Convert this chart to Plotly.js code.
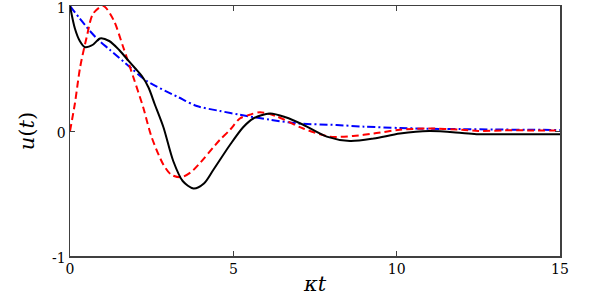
<!DOCTYPE html>
<html>
<head>
<meta charset="utf-8">
<script src="https://cdn.plot.ly/plotly-3.0.1.min.js"></script>
<style>html,body{margin:0;padding:0;background:#fff;}#chart{width:598px;height:304px;}</style>
</head>
<body>
<div id="chart"></div>
<script>
// Black solid curve
const blackX = [0, 0.15, 0.3, 0.46, 0.7, 0.92, 1.2, 1.5, 1.73, 2.0, 2.2, 2.4, 2.6, 2.86, 3.16, 3.45, 3.78, 4.1, 4.39, 4.9, 5.3, 5.61, 6.12, 6.6, 7.14, 7.86, 8.57, 9.3, 10.1, 11.0, 12.0, 12.5, 13.5, 15];
const blackY = [1.0, 0.82, 0.72, 0.67, 0.69, 0.74, 0.72, 0.65, 0.58, 0.50, 0.44, 0.35, 0.21, 0.03, -0.24, -0.40, -0.46, -0.42, -0.31, -0.11, 0.03, 0.10, 0.14, 0.11, 0.05, -0.045, -0.08, -0.06, -0.02, 0.0, -0.015, -0.025, -0.025, -0.025];
// Red dashed curve
const redX = [0, 0.15, 0.31, 0.51, 0.71, 1.02, 1.33, 1.63, 1.94, 2.24, 2.5, 2.86, 3.1, 3.4, 3.7, 4.0, 4.39, 4.59, 4.9, 5.2, 5.5, 5.82, 6.3, 7.14, 7.96, 8.67, 9.3, 10.1, 11.0, 12.0, 12.5, 13.3, 14, 15];
const redY = [0, 0.22, 0.51, 0.75, 0.94, 1.0, 0.89, 0.67, 0.43, 0.19, -0.05, -0.27, -0.35, -0.37, -0.33, -0.25, -0.13, -0.07, 0.01, 0.10, 0.13, 0.15, 0.12, 0.02, -0.045, -0.04, -0.02, 0.01, 0.02, 0.01, 0.0, 0.005, 0.005, 0.005];
// Blue dash-dot curve
const blueX = [0, 0.3, 0.61, 0.9, 1.22, 1.84, 2.35, 3.32, 3.88, 4.59, 5.2, 6.12, 7.0, 8.16, 9.0, 10.1, 11, 12, 13, 14, 15];
const blueY = [1.0, 0.9, 0.8, 0.72, 0.65, 0.51, 0.40, 0.27, 0.20, 0.16, 0.13, 0.09, 0.06, 0.048, 0.035, 0.024, 0.018, 0.015, 0.012, 0.01, 0.008];

const xTickVals = [0, 5, 10, 15];
const xTickText = ['0', '5', '10', '15'];
const yTickVals = [-1, 0, 1];
const yTickText = ['-1', '0', '1'];

const serif = 'DejaVu Serif';

const traces = [
  {x: blueX, y: blueY, mode: 'lines', line: {color: '#0000ff', width: 2, dash: '8px,3px,2px,3px', shape: 'spline', smoothing: 0.8}, hoverinfo: 'skip'},
  {x: redX, y: redY, mode: 'lines', line: {color: '#ff0000', width: 2, dash: '7px,4px', shape: 'spline', smoothing: 0.8}, hoverinfo: 'skip'},
  {x: blackX, y: blackY, mode: 'lines', line: {color: '#000000', width: 2, shape: 'spline', smoothing: 0.8}, hoverinfo: 'skip'}
];

const axisCommon = {
  showgrid: false, zeroline: false, showline: true, mirror: 'ticks',
  linecolor: '#404040', linewidth: 1.5, ticks: 'inside', ticklen: 5, tickwidth: 1, tickcolor: '#404040',
  tickfont: {family: serif, size: 14, color: '#000'}, ticklabeloverflow: 'allow'
};

const layout = {
  width: 598, height: 304,
  margin: {l: 70, r: 38, t: 6, b: 48},
  paper_bgcolor: '#fff', plot_bgcolor: '#fff',
  showlegend: false,
  xaxis: Object.assign({}, axisCommon, {
    range: [0, 15], tickvals: xTickVals, ticktext: xTickText,
    title: {text: '<i>κt</i>', font: {family: serif, size: 21, color: '#000'}, standoff: 0}
  }),
  yaxis: Object.assign({}, axisCommon, {
    range: [-1, 1], tickvals: yTickVals, ticktext: yTickText, ticklabelshift: 2,
    title: {text: '<i>u</i>(<i>t</i>)', font: {family: serif, size: 21, color: '#000'}, standoff: 11}
  })
};

Plotly.newPlot('chart', traces, layout, {staticPlot: true, displayModeBar: false});
</script>
</body>
</html>
